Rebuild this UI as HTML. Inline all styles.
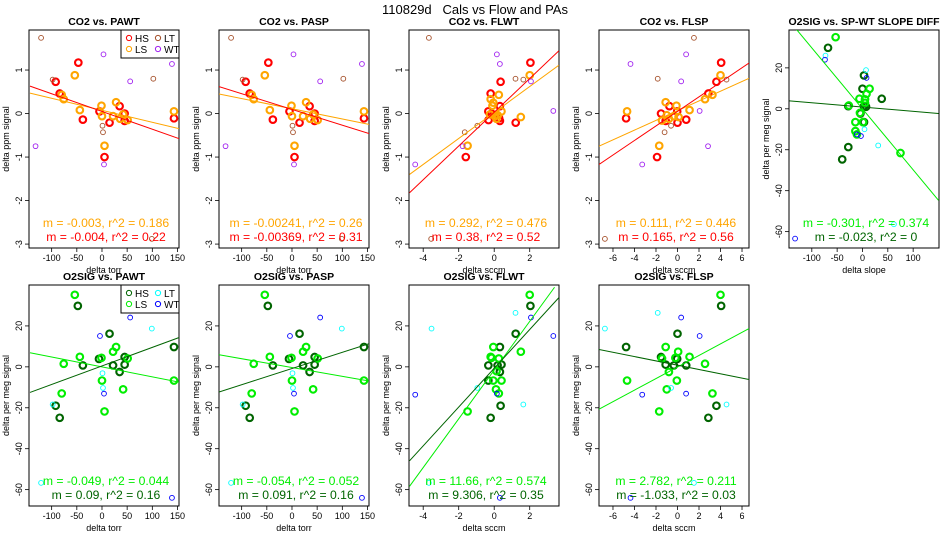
<!DOCTYPE html>
<html><head><meta charset="utf-8"><style>
body{margin:0;background:#fff}
svg{display:block;font-family:"Liberation Sans",Arial,sans-serif}
</style></head><body>
<svg id="c" width="950" height="550" xmlns="http://www.w3.org/2000/svg">
<rect width="950" height="550" fill="#fff"/>
<text x="475" y="14" text-anchor="middle" font-size="13" style="white-space:pre">110829d   Cals vs Flow and PAs</text>
</svg>
<script>
// ---------- data (top-level arrays) ----------
const titles = ["CO2 vs. PAWT","CO2 vs. PASP","CO2 vs. FLWT","CO2 vs. FLSP","O2SIG vs. SP-WT SLOPE DIFF",
                "O2SIG vs. PAWT","O2SIG vs. PASP","O2SIG vs. FLWT","O2SIG vs. FLSP"];
const xTitles = ["delta torr","delta torr","delta sccm","delta sccm","delta slope","delta torr","delta torr","delta sccm","delta sccm"];
const yTitles = ["delta ppm signal","delta ppm signal","delta ppm signal","delta ppm signal","delta per meg signal",
                 "delta per meg signal","delta per meg signal","delta per meg signal","delta per meg signal"];
const xTicksPA = [-100,-50,0,50,100,150];
const xTicksFLWT = [-4,-2,0,2];
const xTicksFLSP = [-6,-4,-2,0,2,4,6];
const xTicksSlope = [-100,-50,0,50,100];
const yTicksCO2 = [-3,-2,-1,0,1];
const yTicksO2 = [-60,-40,-20,0,20];

// CO2 vs PAWT / PASP
const co2PA_HS = [[-47,1.17],[-92,0.73],[-84,0.46],[-38,-0.14],[-5,0.05],[35,0.17],[45,0.0],[45,-0.17],[15,-0.21],[5,-1.0],[143,-0.11]];
const co2PA_LS = [[-54,0.88],[-80,0.43],[-76,0.33],[-44,0.08],[-1,0.18],[0,-0.06],[28,0.26],[22,-0.06],[42,-0.02],[36,-0.12],[51,-0.15],[5,-0.74],[143,0.05]];
const co2PA_LT = [[-121,1.74],[-98,0.78],[102,0.8],[1,-0.28],[2,-0.43],[99,-2.88]];
const co2PA_WT = [[-132,-0.75],[3,1.36],[56,0.74],[139,1.14],[4,-1.17]];
// CO2 vs FLWT
const co2FW_HS = [[2.04,1.17],[0.36,0.73],[-0.2,0.46],[0.32,0.17],[-0.33,0.05],[-0.15,0],[0.32,-0.17],[-0.32,-0.15],[1.21,-0.21],[-1.6,-1.0],[0.28,-0.11]];
const co2FW_LS = [[2.0,0.88],[0.26,0.43],[-0.2,0.33],[-0.1,0.18],[-0.05,0.25],[0.41,0.05],[1.5,-0.08],[0.04,-0.06],[0.13,-0.12],[-0.24,-0.02],[-1.5,-0.74],[0.2,-0.04]];
const co2FW_LT = [[-3.68,1.74],[1.2,0.8],[1.64,0.78],[-0.95,-0.28],[-1.66,-0.43],[-3.55,-2.88]];
const co2FW_WT = [[-4.45,-1.17],[0.15,1.36],[0.32,1.14],[2.07,0.74],[3.33,0.06],[-1.78,-0.75]];
// CO2 vs FLSP
const co2FS_HS = [[4.06,1.17],[3.62,0.73],[2.87,0.46],[-0.75,0.17],[-1.53,0],[-0.03,0.05],[-1.1,-0.17],[0,-0.21],[0.81,-0.14],[-1.9,-1.0],[-4.78,-0.11]];
const co2FS_LS = [[4.0,0.88],[3.25,0.43],[2.56,0.33],[-1.1,0.26],[-0.1,0.18],[1.12,0.08],[-4.69,0.05],[-1.0,-0.04],[-1.44,-0.16],[-0.34,-0.06],[0.1,-0.08],[-0.8,-0.12],[-1.7,-0.74]];
const co2FS_LT = [[1.53,1.74],[-1.84,0.8],[4.56,0.78],[-0.6,-0.28],[-1.2,-0.43],[-6.75,-2.88]];
const co2FS_WT = [[-4.37,1.14],[0.8,1.36],[0.34,0.74],[2.06,0.06],[2.84,-0.75],[-3.28,-1.17]];
// O2 vs slope diff
const o2SD_HS = [[-68,29.8],[3,16.3],[0,9.8],[38,4.9],[-28,1.3],[3,1.3],[7,1.0],[-4,-2.3],[3,-6.5],[-28,-18.7],[-40,-24.7]];
const o2SD_LS = [[-53,35],[14,9.8],[8,7.3],[-6,4.9],[5,4.6],[5,2.9],[-27,1.6],[-14,-6.5],[1,-6.5],[-5,-2],[-14,-10.9],[-11,-12.5],[75,-21.6]];
const o2SD_LT = [[-73,26],[7,18.9],[31,-17.9],[62,-56.4],[4,-10]];
const o2SD_WT = [[-74,24],[8,15.1],[-11,-12.5],[-3,-13.3],[-133,-63.4]];
// O2 vs PAWT / PASP
const o2PA_HS = [[-48,29.8],[15,16.2],[-6,3.9],[-38,0.7],[22,0.7],[45,4.8],[45,1.1],[35,-2.5],[-92,-19],[-84,-24.9],[143,9.7]];
const o2PA_LS = [[-54,35.2],[28,9.7],[22,7.4],[-44,4.9],[-1,4.4],[51,4.1],[-76,1.5],[0,-6.7],[42,-11],[-80,-13],[5,-21.8],[143,-6.7]];
const o2PA_LT = [[99,18.7],[-98,-18.4],[1,-3.1],[2,-10.3],[-121,-56.7]];
const o2PA_WT = [[-4,15.1],[56,24.1],[4,-13.1],[139,-64]];
// O2 vs FLWT
const o2FW_HS = [[2.04,29.8],[1.21,16.2],[0.32,9.7],[0.19,0.7],[-0.33,0.7],[0.41,1.1],[0.32,-2.5],[0.36,-19],[-0.2,-24.9],[-0.33,-6.7]];
const o2FW_LS = [[2.0,35.2],[-0.05,9.7],[1.5,7.4],[-0.2,4.9],[-0.15,4.4],[0.26,4.1],[-0.05,-6.7],[0.41,-6.7],[0.1,-11],[0.26,-13],[-1.5,-21.8],[0.13,-2.1]];
const o2FW_LT = [[1.2,26.4],[-3.53,18.7],[1.64,-18.4],[-0.95,-10.3],[-3.68,-56.7]];
const o2FW_WT = [[2.07,24.1],[3.33,15.1],[-4.45,-13.6],[0.15,-13.1],[0.32,-64]];
// O2 vs FLSP
const o2FS_HS = [[4.06,29.8],[0,16.2],[-1.53,4.8],[-0.03,3.9],[-1.1,1.1],[-0.34,0.7],[0.81,0.7],[-4.78,9.7],[3.62,-19],[2.87,-24.9]];
const o2FS_LS = [[4.0,35.2],[-1.1,9.7],[0.06,7.4],[1.12,4.9],[-0.2,4.4],[-1.44,4.1],[2.56,1.5],[-0.8,-2.5],[-0.06,-6.7],[-4.69,-6.7],[-1.0,-11],[3.25,-13],[-1.7,-21.8]];
const o2FS_LT = [[-1.84,26.4],[-6.75,18.7],[4.56,-18.4],[-0.6,-10.3],[1.53,-56.7]];
const o2FS_WT = [[0.34,24.1],[2.06,15.1],[-3.28,-13.6],[0.8,-13.1],[-4.37,-64]];
// fit lines [x0,y0,x1,y1] for LS-group and HS-group
const fitLS = [[-143,0.47,154,-0.35],[-145,0.45,153,-0.25],[-4.77,-1.40,3.64,1.11],[-7.3,-0.75,6.65,0.81],[-131,39,150,-44.7],
               [-143,6.9,154,-7.5],[-145,5.9,153,-6.9],[-4.77,-58.4,3.4,38.9],[-7.3,-20.7,6.65,18.7]];
const fitHS = [[-143,0.63,154,-0.58],[-145,0.62,153,-0.46],[-4.77,-1.82,3.64,1.44],[-7.3,-1.17,6.65,1.16],[-144,3.9,150,-2.3],
               [-143,-12.5,154,14.4],[-145,-12.3,153,11.3],[-4.77,-45.9,3.65,33.9],[-7.3,8.5,6.65,-6.2]];
const statLS = ["m = -0.003, r^2 = 0.186","m = -0.00241, r^2 = 0.26","m = 0.292, r^2 = 0.476","m = 0.111, r^2 = 0.446","m = -0.301, r^2 = 0.374",
                "m = -0.049, r^2 = 0.044","m = -0.054, r^2 = 0.052","m = 11.66, r^2 = 0.574","m = 2.782, r^2 = 0.211"];
const statHS = ["m = -0.004, r^2 = 0.22","m = -0.00369, r^2 = 0.31","m = 0.38, r^2 = 0.52","m = 0.165, r^2 = 0.56","m = -0.023, r^2 = 0",
                "m = 0.09, r^2 = 0.16","m = 0.091, r^2 = 0.16","m = 9.306, r^2 = 0.35","m = -1.033, r^2 = 0.03"];

// ---------- rendering ----------
const NS = "http://www.w3.org/2000/svg";
const svg = document.getElementById("c");
function mk(tag, attrs, parent){const e=document.createElementNS(NS,tag);for(const k in attrs)e.setAttribute(k,attrs[k]);(parent||svg).appendChild(e);return e;}
const co2Cols = {HS:"#ff0000",LS:"#ffa500",LT:"#a5502a",WT:"#a020f0"};
const o2Cols = {HS:"#006400",LS:"#00ee00",LT:"#00ffff",WT:"#0000ff"};
const panels = [
 {col:0,row:0,xd:[-145,153],yd:[-3.09,1.92],xt:xTicksPA,yt:yTicksCO2,g:[co2PA_HS,co2PA_LS,co2PA_LT,co2PA_WT],c:co2Cols,leg:true},
 {col:1,row:0,xd:[-145,153],yd:[-3.09,1.92],xt:xTicksPA,yt:yTicksCO2,g:[co2PA_HS,co2PA_LS,co2PA_LT,co2PA_WT],c:co2Cols},
 {col:2,row:0,xd:[-4.8,3.65],yd:[-3.09,1.92],xt:xTicksFLWT,yt:yTicksCO2,g:[co2FW_HS,co2FW_LS,co2FW_LT,co2FW_WT],c:co2Cols},
 {col:3,row:0,xd:[-7.3,6.65],yd:[-3.09,1.92],xt:xTicksFLSP,yt:yTicksCO2,g:[co2FS_HS,co2FS_LS,co2FS_LT,co2FS_WT],c:co2Cols},
 {col:4,row:0,xd:[-145,151],yd:[-68,38.5],xt:xTicksSlope,yt:yTicksO2,g:[o2SD_HS,o2SD_LS,o2SD_LT,o2SD_WT],c:o2Cols},
 {col:0,row:1,xd:[-145,153],yd:[-68,40],xt:xTicksPA,yt:yTicksO2,g:[o2PA_HS,o2PA_LS,o2PA_LT,o2PA_WT],c:o2Cols,leg:true},
 {col:1,row:1,xd:[-145,153],yd:[-68,40],xt:xTicksPA,yt:yTicksO2,g:[o2PA_HS,o2PA_LS,o2PA_LT,o2PA_WT],c:o2Cols},
 {col:2,row:1,xd:[-4.8,3.65],yd:[-68,40],xt:xTicksFLWT,yt:yTicksO2,g:[o2FW_HS,o2FW_LS,o2FW_LT,o2FW_WT],c:o2Cols},
 {col:3,row:1,xd:[-7.3,6.65],yd:[-68,40],xt:xTicksFLSP,yt:yTicksO2,g:[o2FS_HS,o2FS_LS,o2FS_LT,o2FS_WT],c:o2Cols}
];
const gNames=["HS","LS","LT","WT"];
panels.forEach((p,i)=>{
  const L=29+190*p.col, W=150, T=p.row?285:30, B=p.row?506:248;
  const xs=v=>L+(v-p.xd[0])/(p.xd[1]-p.xd[0])*W;
  const ys=v=>B-(v-p.yd[0])/(p.yd[1]-p.yd[0])*(B-T);
  const g=mk("g",{});
  
  
  const cp=mk("clipPath",{id:"cp"+i},g); mk("rect",{x:L,y:T,width:W,height:B-T},cp);
  const t=mk("text",{x:L+W/2,y:T-5,"text-anchor":"middle","font-size":10.5,"font-weight":"bold"},g); t.textContent=titles[i];
   
  p.xt.forEach(v=>{const x=xs(v);mk("line",{x1:x,x2:x,y1:B,y2:B+4,stroke:"#000","stroke-width":0.8},g);
    const tl=mk("text",{x:x,y:B+13,"text-anchor":"middle","font-size":9},g);tl.textContent=v;
    });
  mk("line",{x1:xs(p.xt[0]),x2:xs(p.xt[p.xt.length-1]),y1:B,y2:B,stroke:"#000","stroke-width":0.8},g);
  const xt=mk("text",{x:L+W/2,y:B+25,"text-anchor":"middle","font-size":9},g);xt.textContent=xTitles[i];
  
  p.yt.forEach(v=>{const y=ys(v);mk("line",{x1:L,x2:L-4,y1:y,y2:y,stroke:"#000","stroke-width":0.8},g);
    const tl=mk("text",{x:L-7,y:y,"text-anchor":"middle","font-size":9,transform:`rotate(-90 ${L-7} ${y})`},g);tl.textContent=v;
    });
  const yt=mk("text",{x:L-20,y:(T+B)/2,"text-anchor":"middle","font-size":9,transform:`rotate(-90 ${L-20} ${(T+B)/2})`},g);yt.textContent=yTitles[i];
  
  const fr=mk("rect",{x:L,y:T,width:W,height:B-T,fill:"none",stroke:"#000","stroke-width":1},g);
  
  p.g.forEach((arr,k)=>{arr.forEach(pt=>{
    const thick=k<2;
    const c=mk("circle",{cx:xs(pt[0]),cy:ys(pt[1]),r:thick?3.3:2.4,fill:"none",stroke:p.c[gNames[k]],"stroke-width":thick?2.1:0.9},g);
    
    });});
  [[fitLS[i],p.c.LS],[fitHS[i],p.c.HS]].forEach(([f,col],k)=>{
    const ln=mk("line",{x1:xs(f[0]),y1:ys(f[1]),x2:xs(f[2]),y2:ys(f[3]),stroke:col,"stroke-width":1,"clip-path":`url(#cp${i})`},g);
    
    });
  const s1=mk("text",{x:L+W/2+2,y:B-21,"text-anchor":"middle","font-size":12.2,fill:p.c.LS},g);s1.textContent=statLS[i];
  
  const s2=mk("text",{x:L+W/2+2,y:B-7,"text-anchor":"middle","font-size":12.2,fill:p.c.HS},g);s2.textContent=statHS[i];
  
  if(p.leg){
    const lg=mk("g",{},g);
    
    mk("rect",{x:L+92,y:T,width:58,height:28,fill:"#fff",stroke:"#000","stroke-width":1},lg);
    gNames.forEach((n,k)=>{const cx=L+100+(k>=2?29:0), cy=T+8+(k%2)*11;
      mk("circle",{cx:cx,cy:cy,r:2.6,fill:"none",stroke:p.c[n],"stroke-width":1},lg);
      const lt=mk("text",{x:cx+6,y:cy+4,"font-size":10},lg);lt.textContent=n;
      });
  }
});
</script>
</body></html>
